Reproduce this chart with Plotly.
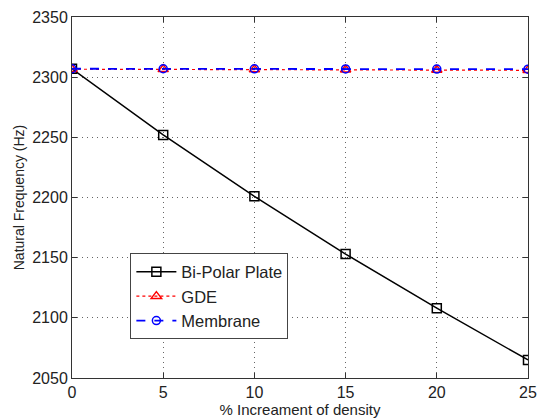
import plotly.graph_objects as go

x_vals = [0, 5, 10, 15, 20, 25]
bipolar = [2307, 2252, 2201, 2153, 2108, 2065]
gde = [2306.6, 2306.5, 2306.3, 2306.1, 2305.9, 2305.7]
membrane = [2307.0, 2307.0, 2306.9, 2306.8, 2306.7, 2306.6]
x_ticks = [0, 5, 10, 15, 20, 25]
y_ticks = [2050, 2100, 2150, 2200, 2250, 2300, 2350]

fig = go.Figure()
fig.add_trace(go.Scatter(x=x_vals, y=bipolar, name="Bi-Polar Plate", mode="lines+markers",
                         line=dict(color="black", width=1.5),
                         marker=dict(symbol="square-open", size=9, color="black", line=dict(width=1.5))))
fig.add_trace(go.Scatter(x=x_vals, y=gde, name="GDE", mode="lines+markers",
                         line=dict(color="red", width=1.2, dash="dot"),
                         marker=dict(symbol="triangle-up-open", size=9, color="red", line=dict(width=1.5))))
fig.add_trace(go.Scatter(x=x_vals, y=membrane, name="Membrane", mode="lines+markers",
                         line=dict(color="blue", width=1.8, dash="dash"),
                         marker=dict(symbol="circle-open", size=8, color="blue", line=dict(width=1.5))))

axis_common = dict(showline=True, linecolor="#333333", linewidth=1, mirror="ticks",
                   ticks="inside", ticklen=5, tickcolor="#333333",
                   showgrid=True, gridcolor="#666666", griddash="1px,4px", gridwidth=1,
                   zeroline=False, automargin=False,
                   tickfont=dict(size=16, color="#222222"))

fig.update_xaxes(range=[0, 25], tickvals=x_ticks,
                 title=dict(text="% Increament of density", font=dict(size=15, color="#222222"), standoff=1),
                 **axis_common)
fig.update_yaxes(range=[2050, 2350], tickvals=y_ticks,
                 title=dict(text="Natural Frequency (Hz)", font=dict(size=14, color="#222222"), standoff=4),
                 **axis_common)

fig.update_layout(
    width=537, height=418,
    margin=dict(l=72, r=9, t=17, b=40),
    paper_bgcolor="white", plot_bgcolor="white",
    font=dict(family="Liberation Sans, Arial, sans-serif", size=13, color="#222222"),
    legend=dict(x=0.128, y=0.345, xanchor="left", yanchor="top",
                bgcolor="white", bordercolor="#444444", borderwidth=1,
                font=dict(size=16.5), tracegroupgap=0, itemwidth=40),
)

fig.write_html("out.html", config={"displayModeBar": False},
               post_script="document.body.style.margin='0';")
